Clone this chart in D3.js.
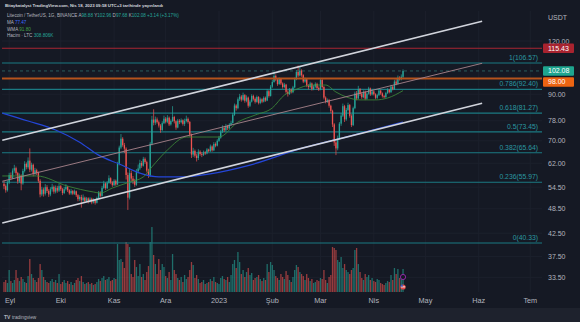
<!DOCTYPE html>
<html><head><meta charset="utf-8">
<script src="https://cdn.jsdelivr.net/npm/d3@7"></script>
<style>html,body{margin:0;padding:0;background:#151924;}svg{display:block;}</style>
</head><body>
<svg id="c" width="580" height="322"></svg>
<script>
// ---------- DATA ----------
const firstDay = "2022-08-29"; // daily candles, LTC/USDT, Aug 29 2022 .. Apr 18 2023
const opens = [55.5,54.8,53.6,55.9,58.2,57.3,59.6,60.4,58.8,56.2,58.0,55.6,59.5,61.8,60.7,62.9,59.9,61.5,58.6,59.7,
58.9,56.4,52.4,53.8,52.6,54.5,53.4,52.4,53.9,54.6,53.2,54.3,53.5,54.8,53.9,52.8,53.9,54.6,53.6,52.7,
53.4,52.6,53.3,52.2,51.1,51.7,50.8,51.5,50.6,51.3,50.4,51.2,50.2,50.9,50.1,51.4,52.9,52.0,54.3,55.6,
54.2,55.8,57.2,55.9,55.1,56.4,55.3,61.8,67.5,70.8,68.4,67.1,58.2,51.5,58.8,57.1,56.3,55.2,59.4,60.3,
62.1,61.2,63.5,62.4,59.6,58.0,68.9,78.5,77.2,78.6,77.4,76.0,74.2,77.0,78.9,77.6,79.3,76.5,77.9,79.6,
77.8,75.2,78.0,77.4,78.2,76.7,77.9,78.8,77.5,72.4,65.0,66.3,64.6,63.8,66.0,65.2,64.9,65.8,65.4,66.8,
66.2,67.9,66.5,68.8,68.2,70.0,71.2,73.6,75.0,74.1,75.8,74.9,76.4,77.1,80.6,84.7,83.5,87.6,88.9,87.4,
89.6,86.9,88.4,84.6,86.5,89.2,87.8,86.4,88.7,85.9,87.6,86.5,88.3,87.0,91.5,89.2,93.8,96.2,99.4,97.5,
95.1,97.8,95.4,93.6,94.8,91.2,90.1,92.3,91.0,93.4,97.6,101.5,99.6,102.3,99.8,96.4,97.6,94.3,93.6,95.4,
92.6,93.8,95.2,93.1,92.4,97.2,93.6,88.4,86.5,87.2,84.6,82.3,76.5,69.4,67.2,71.0,76.8,80.2,84.4,78.6,
82.7,84.9,80.1,76.2,83.5,90.4,88.0,92.6,90.1,88.6,91.2,87.9,90.3,92.8,89.9,91.4,90.0,88.3,89.6,91.8,
90.4,89.1,88.6,90.6,92.2,91.0,93.8,92.5,96.4,95.2,98.4,97.6,98.88];
const closes = [54.8,53.6,55.9,58.2,57.3,59.6,60.4,58.8,56.2,58.0,55.6,59.5,61.8,60.7,62.9,59.9,61.5,58.6,59.7,58.9,
56.4,52.4,53.8,52.6,54.5,53.4,52.4,53.9,54.6,53.2,54.3,53.5,54.8,53.9,52.8,53.9,54.6,53.6,52.7,53.4,
52.6,53.3,52.2,51.1,51.7,50.8,51.5,50.6,51.3,50.4,51.2,50.2,50.9,50.1,51.4,52.9,52.0,54.3,55.6,54.2,
55.8,57.2,55.9,55.1,56.4,55.3,61.8,67.5,70.8,68.4,67.1,58.2,51.5,58.8,57.1,56.3,55.2,59.4,60.3,62.1,
61.2,63.5,62.4,59.6,58.0,68.9,78.5,77.2,78.6,77.4,76.0,74.2,77.0,78.9,77.6,79.3,76.5,77.9,79.6,77.8,
75.2,78.0,77.4,78.2,76.7,77.9,78.8,77.5,72.4,65.0,66.3,64.6,63.8,66.0,65.2,64.9,65.8,65.4,66.8,66.2,
67.9,66.5,68.8,68.2,70.0,71.2,73.6,75.0,74.1,75.8,74.9,76.4,77.1,80.6,84.7,83.5,87.6,88.9,87.4,89.6,
86.9,88.4,84.6,86.5,89.2,87.8,86.4,88.7,85.9,87.6,86.5,88.3,87.0,91.5,89.2,93.8,96.2,99.4,97.5,95.1,
97.8,95.4,93.6,94.8,91.2,90.1,92.3,91.0,93.4,97.6,101.5,99.6,102.3,99.8,96.4,97.6,94.3,93.6,95.4,92.6,
93.8,95.2,93.1,92.4,97.2,93.6,88.4,86.5,87.2,84.6,82.3,76.5,69.4,67.2,71.0,76.8,80.2,84.4,78.6,82.7,
84.9,80.1,76.2,83.5,90.4,88.0,92.6,90.1,88.6,91.2,87.9,90.3,92.8,89.9,91.4,90.0,88.3,89.6,91.8,90.4,
89.1,88.6,90.6,92.2,91.0,93.8,92.5,96.4,95.2,98.4,97.6,98.94,102.08];
const highs = [56.4,55.3,56.5,58.9,59.0,60.3,61.5,60.9,59.2,58.7,58.4,60.2,62.7,62.3,64.0,67.2,62.2,61.9,60.5,60.2,
59.3,56.9,54.6,54.4,55.4,55.1,53.9,54.5,55.5,55.0,55.0,54.9,55.6,55.2,54.3,54.6,55.4,54.9,53.9,54.0,
53.7,53.8,53.5,52.5,52.2,52.3,52.4,51.8,51.7,51.6,51.6,51.5,51.3,51.2,51.8,53.4,53.3,54.9,56.4,55.9,
56.3,58.1,57.5,56.3,56.9,56.8,62.5,68.2,72.6,71.4,69.2,67.6,59.0,60.3,59.6,57.9,57.0,60.1,61.6,63.2,
62.8,64.2,64.0,62.9,60.2,69.6,80.1,83.0,79.8,79.4,78.1,76.6,77.8,80.2,79.6,80.4,79.8,78.6,84.4,80.1,
78.2,78.8,78.7,79.0,78.6,78.9,80.2,79.4,77.9,72.8,67.4,66.8,65.3,66.9,66.5,65.8,66.4,66.2,67.3,67.1,
68.6,68.3,69.5,69.4,70.6,71.9,74.3,76.1,75.9,76.7,76.3,77.0,78.0,81.4,85.6,85.3,88.5,90.2,89.6,90.8,
90.1,89.5,88.9,87.4,90.0,89.8,88.5,89.4,89.1,88.4,88.1,89.0,88.9,92.4,92.1,94.6,97.3,101.6,100.2,98.0,
98.6,98.3,96.0,95.7,95.2,92.0,93.1,92.9,94.2,98.5,102.6,105.2,104.8,103.0,100.3,98.5,98.0,95.0,96.3,95.9,
94.6,96.0,95.8,93.9,98.2,97.8,94.1,89.0,88.0,87.8,85.1,82.8,77.0,70.3,72.0,77.5,81.3,85.6,85.0,83.6,
86.0,85.4,80.8,84.2,91.3,91.6,94.2,93.1,91.0,91.9,91.8,91.0,93.7,93.3,92.2,91.9,90.5,90.3,92.6,92.3,
90.9,89.7,91.2,93.0,92.6,94.7,94.3,97.4,97.8,99.6,99.2,100.2,102.96];
const lows = [53.9,52.9,53.2,55.4,56.6,56.9,58.9,58.1,55.5,55.8,53.6,55.2,59.0,60.0,60.2,59.1,59.3,57.8,58.0,58.2,
55.8,51.6,51.9,51.8,52.1,52.8,51.7,51.9,53.2,52.6,52.7,52.9,53.1,53.4,52.2,52.5,53.5,53.1,52.3,52.3,
52.2,52.3,51.7,50.5,50.6,48.8,50.4,50.2,50.3,49.9,50.1,49.7,49.9,49.6,49.9,51.2,51.6,51.8,54.0,53.7,
53.9,55.5,55.4,54.6,54.8,54.9,55.1,61.3,66.9,67.8,65.5,56.8,48.2,51.0,56.2,55.4,54.6,54.9,58.7,59.8,
60.5,60.9,61.8,59.0,57.3,57.6,68.3,76.1,76.3,76.8,75.2,73.1,73.8,76.6,76.9,77.0,75.8,76.0,77.5,76.9,
74.3,74.9,76.6,76.9,76.0,75.8,77.3,76.8,71.6,63.8,64.2,63.9,62.6,63.1,64.6,64.1,64.5,64.9,65.1,65.8,
65.9,66.0,66.2,67.6,67.9,69.6,70.8,73.0,73.4,73.6,74.2,74.5,75.9,76.8,80.1,82.4,83.0,86.8,86.5,86.9,
86.0,86.2,83.7,84.0,86.1,87.0,85.6,86.0,85.2,85.3,85.8,86.1,86.4,86.7,88.4,88.9,93.2,95.8,96.6,94.2,
94.7,94.6,92.8,93.0,90.3,88.9,89.7,90.4,90.5,93.0,97.1,98.8,99.1,98.9,95.6,95.8,93.5,92.4,93.1,91.8,
92.0,93.2,92.3,91.6,92.0,92.8,87.5,85.7,85.9,83.7,81.4,75.4,68.1,64.8,66.5,70.4,75.9,79.6,77.5,78.0,
82.1,79.3,75.4,75.8,83.0,87.1,87.6,89.2,87.8,88.1,87.2,87.4,89.8,89.2,89.4,89.4,87.6,87.8,89.1,89.7,
88.4,88.0,88.3,90.1,90.4,90.7,91.9,92.1,94.5,94.8,96.9,97.0,97.68];
const volumes = [134,161,121,295,147,121,161,295,188,147,201,174,134,121,214,442,241,188,161,134,
188,375,295,201,161,134,121,147,174,134,161,121,241,107,134,161,121,147,107,134,
94,121,161,188,147,214,134,107,121,134,107,121,94,107,134,174,147,188,214,161,
174,201,147,161,188,174,643,429,442,402,322,670,643,603,241,201,429,335,214,375,
201,241,161,268,348,670,871,496,375,241,442,295,375,335,214,188,268,161,509,295,
241,188,161,201,134,228,174,201,295,402,362,188,228,174,121,134,161,107,121,134,
174,147,201,134,121,107,188,214,174,161,201,134,228,375,429,322,536,402,241,295,
201,268,322,228,255,161,188,201,228,174,147,188,161,375,268,402,362,295,214,188,
161,241,201,174,281,228,161,134,201,295,362,335,268,241,214,161,241,188,147,174,
121,134,161,147,188,174,295,161,121,201,228,603,590,563,429,402,469,322,375,295,
268,241,295,322,563,590,375,268,188,161,241,201,228,161,188,147,134,174,161,121,
107,94,121,147,134,228,161,322,241,308,188,214,308.806];

const maDates  = ["2022-08-28","2022-09-12","2022-09-28","2022-10-12","2022-10-23","2022-11-04","2022-11-16","2022-11-27","2022-12-09","2022-12-26","2023-01-19","2023-02-17","2023-03-18","2023-04-18"];
const maValues = [81.3,77.9,74.2,69.5,64.8,61.75,58.8,57.6,57.6,58.5,61.4,67.0,71.8,77.47];
const wmaDates  = ["2022-08-28","2022-09-17","2022-10-05","2022-10-20","2022-10-24","2022-10-31","2022-11-10","2022-11-18","2022-11-23","2022-12-02","2022-12-13","2022-12-25","2023-01-01","2023-01-12","2023-01-22","2023-02-01","2023-02-08","2023-02-14","2023-02-24","2023-03-04","2023-03-10","2023-03-16","2023-03-24","2023-04-02","2023-04-09","2023-04-18"];
const wmaValues = [57.9,57.9,54.8,53.1,52.8,54.25,56.0,57.6,60.8,66.6,71.45,71.45,71.45,77.47,80.45,83.6,89.6,92.1,94.6,94.6,91.1,88.7,87.3,87.3,88.2,91.8];

const channelDates = ["2022-08-28","2023-06-03"];
const upperPrices = [70.23,133.5];
const midPrices = [56.27,106.4];
const lowerPrices = [44.93,85.76];

const fibLevels = ["0","0.236","0.382","0.5","0.618","0.786","1"];
const fibPrices = [40.33,55.97,65.64,73.45,81.27,92.40,106.57];
const hLinePrices = [115.43,98.00];
const lastPrice = 102.08;

const yTicks = [33.5,37.5,42.5,48.5,54.5,62,70,78,90,120];
const xTickDates = ["2022-09-01","2022-10-01","2022-11-01","2022-12-01","2023-01-01","2023-02-01","2023-03-01","2023-04-01","2023-05-01","2023-06-01","2023-07-01"];
const xTickLabels = ["Eyl","Eki","Kas","Ara","2023","Şub","Mar","Nis","May","Haz","Tem"];

// ---------- SETUP ----------
const parse = d3.utcParse("%Y-%m-%d");
const W = 580, H = 322;
const paneL = 2, paneR = 542, paneT = 11, paneB = 292;
const up = "#26a69a", down = "#ef5350";
const font = "'Liberation Sans', Arial, sans-serif";

const svg = d3.select("#c");
const x = d3.scaleUtc().domain([parse("2023-01-01"), parse("2023-07-01")]).range([219, 219 + 181 * 1.72]);
const y = d3.scaleLog().domain([33.5, 120]).range([277.3, 41]);
const yv = d3.scaleLinear().domain([0, 1000]).range([paneB, paneB - 74.6]);

const dates = d3.utcDay.range(parse(firstDay), d3.utcDay.offset(parse(firstDay), closes.length));
const data = dates.map((d, i) => ({d, o: opens[i], h: highs[i], l: lows[i], c: closes[i], v: volumes[i]}));

svg.append("rect").attr("width", W).attr("height", H).attr("fill", "#151924");
svg.append("rect").attr("x", 0).attr("y", 308).attr("width", W).attr("height", 14).attr("fill", "#1e222d");

svg.append("defs").append("clipPath").attr("id", "clip")
  .append("rect").attr("x", paneL).attr("y", paneT).attr("width", paneR - paneL).attr("height", paneB - paneT);

// grid
const grid = svg.append("g");
grid.selectAll("line.v").data(xTickDates).join("line")
  .attr("x1", d => x(parse(d))).attr("x2", d => x(parse(d))).attr("y1", paneT).attr("y2", paneB)
  .attr("stroke", "#1c202c").attr("stroke-width", 1);
grid.selectAll("line.h").data(yTicks).join("line")
  .attr("x1", paneL).attr("x2", paneR).attr("y1", d => y(d)).attr("y2", d => y(d))
  .attr("stroke", "#1c202c").attr("stroke-width", 1);

const g = svg.append("g").attr("clip-path", "url(#clip)");

// volume
g.append("g").selectAll("rect").data(data).join("rect")
  .attr("x", d => x(d.d) - 0.65).attr("width", 1.3)
  .attr("y", d => yv(d.v)).attr("height", d => yv(0) - yv(d.v))
  .attr("fill", d => d.c >= d.o ? up : down).attr("opacity", 0.6);

// fib lines
const fib = g.append("g");
fib.selectAll("line").data(fibPrices).join("line")
  .attr("x1", paneL).attr("x2", paneR).attr("y1", d => y(d)).attr("y2", d => y(d))
  .attr("stroke", "#1b7a82").attr("stroke-width", 1.1);

// candles
const cg = g.append("g");
cg.selectAll("line").data(data).join("line")
  .attr("x1", d => x(d.d)).attr("x2", d => x(d.d))
  .attr("y1", d => y(Math.max(d.h, d.o, d.c))).attr("y2", d => y(Math.min(d.l, d.o, d.c)))
  .attr("stroke", d => d.c >= d.o ? up : down).attr("stroke-width", 0.7);
cg.selectAll("rect").data(data).join("rect")
  .attr("x", d => x(d.d) - 0.65).attr("width", 1.3)
  .attr("y", d => y(Math.max(d.o, d.c)))
  .attr("height", d => Math.max(0.8, Math.abs(y(d.o) - y(d.c))))
  .attr("fill", d => d.c >= d.o ? up : down);

// moving averages
const line = d3.line().x(d => x(d[0])).y(d => y(d[1])).curve(d3.curveMonotoneX);
g.append("path").attr("d", line(maDates.map((d, i) => [parse(d), maValues[i]])))
  .attr("fill", "none").attr("stroke", "#2446d8").attr("stroke-width", 1.2);
g.append("path").attr("d", line(wmaDates.map((d, i) => [parse(d), wmaValues[i]])))
  .attr("fill", "none").attr("stroke", "#3f8f3a").attr("stroke-width", 0.8);

// horizontal drawn lines
g.append("line").attr("x1", paneL).attr("x2", paneR).attr("y1", y(hLinePrices[0])).attr("y2", y(hLinePrices[0]))
  .attr("stroke", "#a82632").attr("stroke-width", 1.1);
g.append("line").attr("x1", paneL).attr("x2", paneR).attr("y1", y(hLinePrices[1])).attr("y2", y(hLinePrices[1]))
  .attr("stroke", "#b4531c").attr("stroke-width", 2);
// last price dashed line
g.append("line").attr("x1", paneL).attr("x2", paneR).attr("y1", y(lastPrice)).attr("y2", y(lastPrice))
  .attr("stroke", "#2f6f6c").attr("stroke-width", 0.8).attr("stroke-dasharray", "3,3");

// channel lines
const chLine = d3.line().x(d => x(d[0])).y(d => y(d[1]));
const chPts = arr => channelDates.map((d, i) => [parse(d), arr[i]]);
g.append("path").attr("d", chLine(chPts(midPrices))).attr("fill", "none").attr("stroke", "#a8838b").attr("stroke-width", 0.9);
g.append("path").attr("d", chLine(chPts(upperPrices))).attr("fill", "none").attr("stroke", "#d1d4dc").attr("stroke-width", 1.6);
g.append("path").attr("d", chLine(chPts(lowerPrices))).attr("fill", "none").attr("stroke", "#d1d4dc").attr("stroke-width", 1.6);

// fib labels
svg.append("g").selectAll("text").data(fibPrices).join("text")
  .attr("x", paneR - 4).attr("y", d => y(d) - 3.2).attr("text-anchor", "end")
  .attr("font-family", font).attr("font-size", 6.8).attr("fill", "#2a98a0")
  .text((d, i) => `${fibLevels[i]}(${d.toFixed(2)})`);

// event icons at last bar
const lastX = x(dates[dates.length - 1]);
svg.append("circle").attr("cx", lastX).attr("cy", yv(0) - 15).attr("r", 2.6)
  .attr("fill", "#151924").attr("stroke", "#9c27b0").attr("stroke-width", 0.9);
svg.append("circle").attr("cx", lastX).attr("cy", yv(0) - 5).attr("r", 2.6).attr("fill", "#e04848");
svg.append("rect").attr("x", lastX - 2.2).attr("y", yv(0) - 5.6).attr("width", 4.4).attr("height", 1).attr("fill", "#f2f2f2");
svg.append("rect").attr("x", lastX - 2.2).attr("y", yv(0) - 7.2).attr("width", 2).attr("height", 1.8).attr("fill", "#3a5bd0");

// price axis
const ax = svg.append("g");
ax.append("text").attr("x", 548).attr("y", 19.5).attr("font-family", font).attr("font-size", 7)
  .attr("fill", "#b2b5be").text("USDT");
ax.selectAll("text.t").data(yTicks).join("text")
  .attr("x", 548).attr("y", d => y(d) + 2.5).attr("font-family", font).attr("font-size", 7)
  .attr("fill", "#b2b5be").text(d => d.toFixed(2));

const markers = [
  {p: hLinePrices[0], c: "#a8232f"},
  {p: lastPrice, c: "#1ea58f"},
  {p: hLinePrices[1], c: "#ec6412"}
].map(m => ({...m, yy: y(m.p)})).sort((a, b) => a.yy - b.yy);
for (let i = 1; i < markers.length; i++) {
  if (markers[i].yy < markers[i - 1].yy + 11) markers[i].yy = markers[i - 1].yy + 11;
}
const mk = ax.selectAll("g.m").data(markers).join("g");
mk.append("rect").attr("x", 543).attr("y", d => d.yy - 4.8).attr("width", 31).attr("height", 9.6)
  .attr("rx", 1).attr("fill", d => d.c);
mk.append("text").attr("x", 548).attr("y", d => d.yy + 2.5).attr("font-family", font).attr("font-size", 7)
  .attr("fill", "#ffffff").text(d => d.p.toFixed(2));

// time axis
svg.selectAll("text.xt").data(xTickDates).join("text")
  .attr("x", d => Math.max(x(parse(d)), 10)).attr("y", 303).attr("text-anchor", "middle")
  .attr("font-family", font).attr("font-size", 7.3).attr("fill", "#b2b5be")
  .text((d, i) => xTickLabels[i]);

// header texts
svg.append("text").attr("x", 5).attr("y", 6.6).attr("font-family", font).attr("font-size", 4.4)
  .attr("font-weight", "bold").attr("fill", "#d1d4dc").attr("textLength", 158)
  .text("Bitaykatalyst TradingView.com, Nis 18, 2023 09:58 UTC+3 tarihinde yayınlandı");

const grey = "#b2b5be";
const legend = [
  {y: 17.3, parts: [["Litecoin / TetherUS, 1G, BINANCE  ", grey], ["A", grey], ["98.88 ", up], ["Y", grey], ["102.96 ", up], ["D", grey], ["97.68 ", up], ["K", grey], ["102.08 ", up], ["+3.14 (+3.17%)", up]]},
  {y: 24, parts: [["MA  ", grey], ["77.47", "#3d6cff"]]},
  {y: 30.6, parts: [["WMA  ", grey], ["91.80", "#43a047"]]},
  {y: 37, parts: [["Hacim · LTC  ", grey], ["308.806K", up]]}
];
legend.forEach(l => {
  const t = svg.append("text").attr("x", 7).attr("y", l.y).attr("font-family", font).attr("font-size", 4.6);
  l.parts.forEach(p => t.append("tspan").attr("fill", p[1]).text(p[0]));
});

// footer logo
svg.append("text").attr("x", 4).attr("y", 318.5).attr("font-family", font).attr("font-size", 5)
  .attr("fill", "#b2b5be").attr("font-weight", "bold").text("TV");
svg.append("text").attr("x", 12).attr("y", 318.5).attr("font-family", font).attr("font-size", 4.8)
  .attr("fill", "#b2b5be").text("tradingview");
</script>
</body></html>
